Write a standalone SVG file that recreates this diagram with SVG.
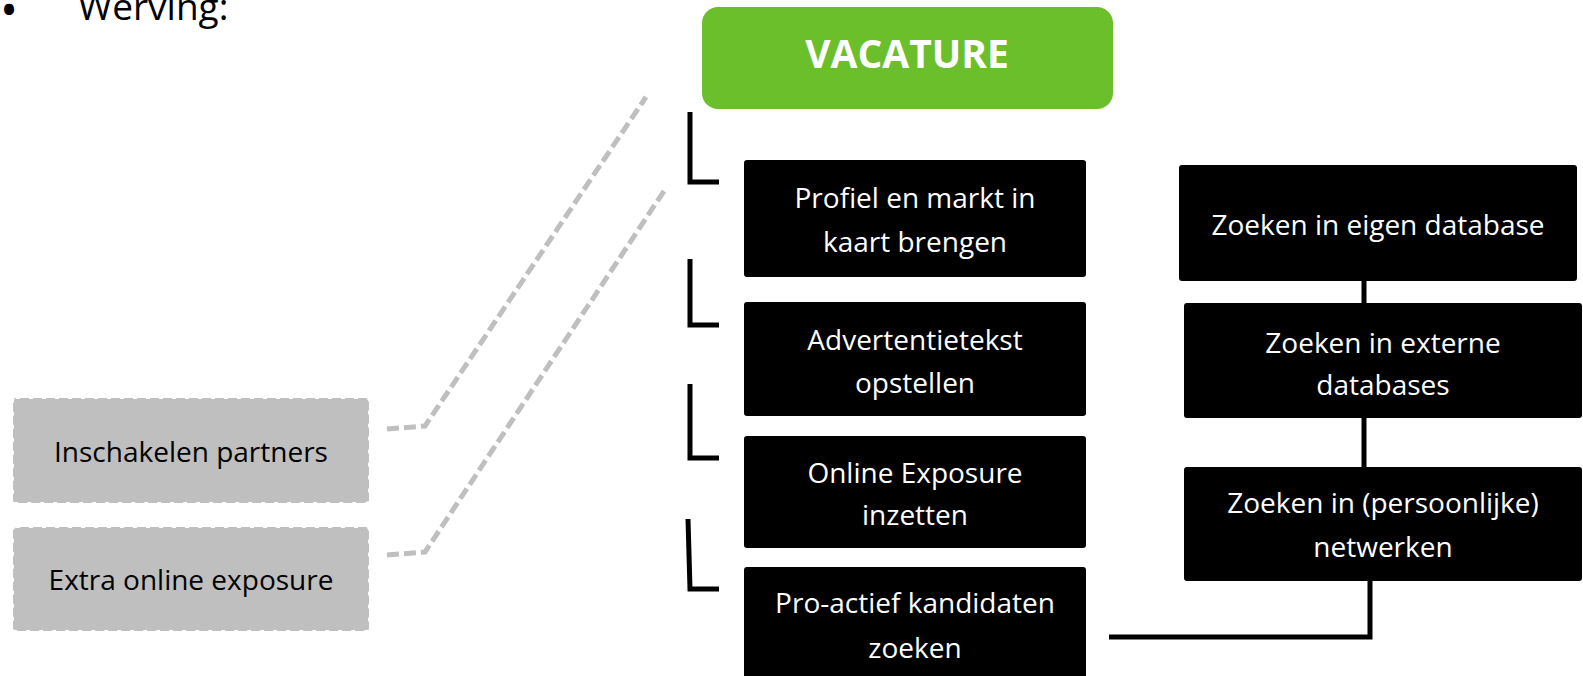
<svg xmlns="http://www.w3.org/2000/svg" width="1583" height="676" viewBox="0 0 1583 676">
<style>
  text { font-family: "Open Sans", "Liberation Sans", sans-serif; }
  .lbl { font-size: 28px; text-anchor: middle; }
  .wt { fill: #ffffff; }
  .bk { fill: #000000; }
  .step { fill: #000000; }
  .opt { fill: #bfbfbf; stroke: #ffffff; stroke-width: 2; stroke-dasharray: 4 9; }
  .conn { fill: none; stroke: #000000; stroke-width: 5; }
  .dash { fill: none; stroke: #bfbfbf; stroke-width: 5; stroke-dasharray: 12 5; }
</style>
<rect width="1583" height="676" fill="#ffffff"/>

<g id="title">
  <text x="0" y="27" font-size="48" class="bk">•</text>
  <text x="78" y="20" font-size="37" class="bk">Werving:</text>
</g>

<g id="connectors">
  <path class="conn" d="M690 112 V182 H719"/>
  <path class="conn" d="M690 259 V325 H719"/>
  <path class="conn" d="M690 384 V458 H719"/>
  <path class="conn" d="M688 519 L690 589 H719"/>
  <path class="conn" d="M1364 281 V303"/>
  <path class="conn" d="M1364 418 V467"/>
  <path class="conn" d="M1370 581 V637 H1109"/>
  <path class="dash" d="M387 429 L425 426 L646 97"/>
  <path class="dash" d="M387 555 L425 552 L664 191"/>
</g>

<g id="vacature">
  <rect x="702" y="7" width="411" height="102" rx="16" fill="#6bbf2b"/>
  <text x="907" y="68" font-size="39" font-weight="bold" text-anchor="middle" class="wt">VACATURE</text>
</g>

<g id="profiel">
  <rect class="step" x="744" y="160" width="342" height="117" rx="3"/>
  <text class="lbl wt" x="915" y="208">Profiel en markt in</text>
  <text class="lbl wt" x="915" y="252">kaart brengen</text>
</g>

<g id="advertentie">
  <rect class="step" x="744" y="302" width="342" height="114" rx="3"/>
  <text class="lbl wt" x="915" y="350">Advertentietekst</text>
  <text class="lbl wt" x="915" y="393">opstellen</text>
</g>

<g id="online">
  <rect class="step" x="744" y="436" width="342" height="112" rx="3"/>
  <text class="lbl wt" x="915" y="483">Online Exposure</text>
  <text class="lbl wt" x="915" y="525">inzetten</text>
</g>

<g id="proactief">
  <rect class="step" x="744" y="567" width="342" height="120" rx="3"/>
  <text class="lbl wt" x="915" y="613">Pro-actief kandidaten</text>
  <text class="lbl wt" x="915" y="658">zoeken</text>
</g>

<g id="eigen">
  <rect class="step" x="1179" y="165" width="398" height="116" rx="3"/>
  <text class="lbl wt" x="1378" y="235">Zoeken in eigen database</text>
</g>

<g id="externe">
  <rect class="step" x="1184" y="303" width="398" height="115" rx="3"/>
  <text class="lbl wt" x="1383" y="353">Zoeken in externe</text>
  <text class="lbl wt" x="1383" y="395">databases</text>
</g>

<g id="netwerken">
  <rect class="step" x="1184" y="467" width="398" height="114" rx="3"/>
  <text class="lbl wt" x="1383" y="513">Zoeken in (persoonlijke)</text>
  <text class="lbl wt" x="1383" y="557">netwerken</text>
</g>

<g id="partners">
  <rect class="opt" x="13" y="398" width="356" height="105" rx="3"/>
  <text class="lbl bk" x="191" y="462">Inschakelen partners</text>
</g>

<g id="extra">
  <rect class="opt" x="13" y="527" width="356" height="104" rx="3"/>
  <text class="lbl bk" x="191" y="590">Extra online exposure</text>
</g>
</svg>
